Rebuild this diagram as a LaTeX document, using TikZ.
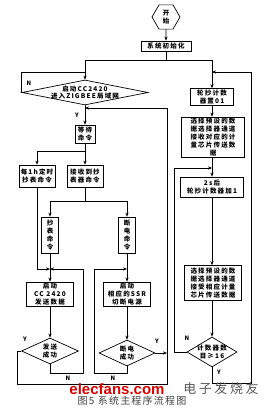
\documentclass[tikz,border=0pt]{standalone}
\usepackage{fontspec}
\setmainfont{Noto Sans CJK SC}
\newfontfamily\cjk[LetterSpace=18]{Noto Sans CJK SC}
\newfontfamily\capfont[LetterSpace=12]{Noto Sans CJK SC}
\newfontfamily\wmfont{Liberation Sans}
\newfontfamily\wmcjk[LetterSpace=20]{Noto Sans CJK SC}
\usetikzlibrary{shapes.geometric,arrows.meta}
\tikzset{
  txt/.style={font=\cjk\bfseries\fontsize{6.5}{7.8}\selectfont},
  box/.style={draw, line width=0.7pt, inner sep=0pt, align=center, txt},
  dia/.style={draw, diamond, inner sep=0pt, line width=0.7pt},
  dlab/.style={align=center, inner sep=0pt, txt},
  hexa/.style={draw, regular polygon, regular polygon sides=6, minimum size=28, inner sep=0pt, line width=0.7pt, align=center, txt},
  ln/.style={line width=0.6pt},
  arr/.style={line width=0.6pt, -{Stealth[length=4pt,width=3.2pt]}},
  yn/.style={font=\bfseries\fontsize{6}{7}\selectfont, inner sep=0pt},
}
\begin{document}
\begin{tikzpicture}[x=1pt,y=-1pt]
\useasboundingbox (0,0) rectangle (270,412);
\fill[white] (0,0) rectangle (270,412);

% ---- top ----
\node[hexa] (start) at (166,17) {开\\始};
\node[box, minimum width=50, minimum height=10] (init) at (166,46) {系统初始化};
\coordinate (j1) at (166,60);
\coordinate (jl) at (85,60);
\coordinate (jr) at (212,60);
\draw[arr] (start) -- (init);
\draw[ln] (init) -- (j1);
\draw[ln] (jl) -- (jr);

% ---- left column ----
\node[dia, minimum width=126, minimum height=25,
  label={[dlab]center:{启动CC2420\\进入ZIGBEE局域网}}] (d1) at (85,92.5) {};
\draw[arr] (jl) -- (d1.north);
\coordinate (n1) at (85,72);
\draw[ln] (d1.west) |- (n1);
\node[yn] (lN1) at (29,83) {N};

\node[box, minimum width=20, minimum height=18] (wait) at (85,134) {等待\\命令};
\draw[arr] (d1.south) -- (wait.north);
\node[yn] (lY1) at (77,115) {Y};
\coordinate (back) at (85,108);

\node[box, minimum width=36, minimum height=22] (hour) at (37,176) {每1h定时\\抄表命令};
\node[box, minimum width=36, minimum height=22] (recv) at (85,176) {接收到抄\\表器命令};
\coordinate (j3) at (85,151);
\coordinate (j3l) at (37,151);
\draw[arr] (wait.south) -- (recv.north);
\draw[ln] (j3) -- (j3l);
\draw[arr] (j3l) -- (hour.north);

\node[box, minimum width=17, minimum height=36] (readc) at (50,235) {抄\\表\\命\\令};
\node[box, minimum width=17, minimum height=36] (cutc) at (127,235) {断\\电\\命\\令};
\coordinate (j4) at (85,201);
\coordinate (j4l) at (50,201);
\coordinate (j4r) at (127,201);
\draw[ln] (recv.south) -- (j4);
\draw[ln] (j4l) -- (j4r);
\draw[arr] (j4l) -- (readc.north);
\draw[arr] (j4r) -- (cutc.north);

\node[box, minimum width=47, minimum height=24] (send) at (50,294) {启动\\CC 2420\\发送数据};
\node[box, minimum width=47, minimum height=24] (ssr) at (127,294) {启动\\相应的SSR\\切断电源};
\draw[arr] (readc.south) -- (send.north);
\draw[arr] (cutc.south) -- (ssr.north);
\coordinate (m1) at (50,269);
\coordinate (m2) at (127,269);
\draw[arr] (hour.south) |- (m1);

\node[dia, minimum width=57, minimum height=26,
  label={[dlab]center:{发送\\成功}}] (d2) at (50,351) {};
\node[dia, minimum width=56, minimum height=26,
  label={[dlab]center:{断电\\成功}}] (d3) at (127,353) {};
\draw[arr] (send.south) -- (d2.north);
\draw[arr] (ssr.south) -- (d3.north);

% N loops (retry)
\coordinate (r1a) at (50,373);
\coordinate (r1b) at (83,373);
\coordinate (r1c) at (83,269);
\draw[arr] (d2.south) -- (r1a) -- (r1b) -- (r1c) -- (m1);
\node[yn] (lN2) at (68,378) {N};
\coordinate (r2a) at (127,373);
\coordinate (r2b) at (94,373);
\coordinate (r2c) at (94,269);
\draw[arr] (d3.south) -- (r2a) -- (r2b) -- (r2c) -- (m2);
\node[yn] (lN3) at (113,378) {N};

% Y loops (back to wait)
\coordinate (y1a) at (17,351);
\coordinate (y1b) at (17,384);
\coordinate (y1c) at (167,384);
\coordinate (y1d) at (167,108);
\draw[arr] (d2.west) -- (y1a) -- (y1b) -- (y1c) -- (y1d) -- (back);
\node[yn] (lY2) at (25,339) {Y};
\coordinate (y2) at (167,353);
\draw[arr] (d3.east) -- (y2);
\node[yn] (lY3) at (157,341) {Y};

% ---- right column ----
\node[box, minimum width=43, minimum height=17] (reset) at (212,97) {轮抄计数\\器置01};
\draw[arr] (jr) -- (reset.north);
\node[box, minimum width=63, minimum height=40] (sel1) at (213,137)
  {选择预设的数\\据选择器通道\\接收对应的计\\量芯片传送数\\据};
\draw[arr] (reset.south) -- (sel1.north -| reset.south);
\node[box, minimum width=63, minimum height=20] (add) at (212,187) {2s后\\轮抄计数器加1};
\draw[arr] (sel1.south -| add.north) -- (add.north);
\node[box, minimum width=57, minimum height=35] (sel2) at (213,283)
  {选择预设的数\\据选择器通道\\接受相应计量\\芯片传送数据};
\draw[arr] (add.south) -- (sel2.north -| add.south);
\node[dia, minimum width=50, minimum height=30,
  label={[dlab]center:{计数器数\\目≥16}}] (d4) at (212,352) {};
\draw[arr] (sel2.south -| d4.north) -- (d4.north);
\node[yn] (lN4) at (187,338) {N};
\node[yn] (lY4) at (219,372) {Y};

\coordinate (l1) at (174,352);
\coordinate (l2) at (174,168);
\coordinate (l3) at (212,168);
\draw[arr] (d4.west) -- (l1) -- (l2) -- (l3);
\coordinate (q1) at (212,383);
\coordinate (q2) at (251,383);
\coordinate (q3) at (251,72);
\coordinate (q4) at (212,72);
\draw[arr] (d4.south) -- (q1) -- (q2) -- (q3) -- (q4);

% ---- caption & watermark ----
\node[font=\wmfont\bfseries\fontsize{15}{15}\selectfont, text=red!85!black, inner sep=0pt] (wm) at (117,389) {elecfans.com};
\node[font=\wmcjk\fontsize{13}{13}\selectfont, text=black!65, inner sep=0pt] (wm2) at (221,389) {电子发烧友};
\node[font=\capfont\fontsize{10}{12}\selectfont, text=black!75, inner sep=0pt] (cap) at (132,401) {图5 系统主程序流程图};
\end{tikzpicture}
\end{document}
